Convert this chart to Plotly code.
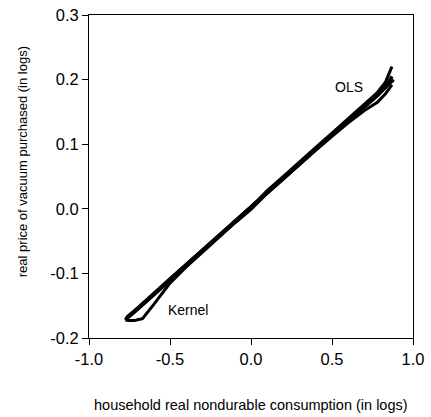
import plotly.graph_objects as go

# OLS fit
ols_x = [-0.77, 0.88]
ols_y = [-0.170, 0.200]

# Kernel fit and its bands
kernel_x = [-0.775, -0.76, -0.72, -0.67, -0.60, -0.50, -0.40, -0.30, -0.20, -0.10, 0.00,
            0.05, 0.10, 0.20, 0.30, 0.40, 0.50, 0.60, 0.70, 0.78, 0.83, 0.87]
kernel_y = [-0.172, -0.168, -0.160, -0.149, -0.133, -0.110, -0.088, -0.066, -0.043, -0.021, 0.001,
            0.013, 0.026, 0.048, 0.071, 0.093, 0.115, 0.137, 0.158, 0.175, 0.188, 0.205]
kernel_lo = [-0.172, -0.173, -0.173, -0.170, -0.148, -0.115, -0.090, -0.067, -0.044, -0.022, -0.001,
             0.011, 0.024, 0.046, 0.069, 0.091, 0.112, 0.133, 0.152, 0.165, 0.178, 0.192]
kernel_hi = [-0.172, -0.166, -0.158, -0.147, -0.131, -0.108, -0.086, -0.064, -0.041, -0.019, 0.003,
             0.015, 0.028, 0.050, 0.073, 0.095, 0.117, 0.140, 0.162, 0.180, 0.196, 0.220]

x_ticks = [-1.0, -0.5, 0.0, 0.5, 1.0]
x_labels = ["-1.0", "-0.5", "0.0", "0.5", "1.0"]
y_ticks = [-0.2, -0.1, 0.0, 0.1, 0.2, 0.3]
y_labels = ["-0.2", "-0.1", "0.0", "0.1", "0.2", "0.3"]

FONT = "Liberation Sans, Arial, sans-serif"

fig = go.Figure()
for xs, ys, w in [(ols_x, ols_y, 4), (kernel_x, kernel_y, 3.5), (kernel_x, kernel_lo, 3), (kernel_x, kernel_hi, 3)]:
    fig.add_trace(go.Scatter(x=xs, y=ys, mode="lines", line=dict(color="black", width=w),
                             showlegend=False, hoverinfo="skip"))

fig.add_annotation(x=0.602, y=0.1886, text="OLS", showarrow=False,
                   font=dict(size=14, color="black", family=FONT))
fig.add_annotation(x=-0.389, y=-0.157, text="Kernel", showarrow=False,
                   font=dict(size=14, color="black", family=FONT))

# axis titles
fig.add_annotation(xref="paper", yref="paper", x=0.5, y=-0.207, xanchor="center", yanchor="middle",
                   text="household real nondurable consumption (in logs)", showarrow=False,
                   font=dict(size=14.5, color="black", family=FONT))
fig.add_annotation(xref="paper", yref="paper", x=-0.205, y=0.546, xanchor="center", yanchor="middle",
                   text="real price of vacuum purchased (in logs)", showarrow=False, textangle=-90,
                   font=dict(size=13, color="black", family=FONT))

axis_common = dict(showline=True, linecolor="black", linewidth=1, mirror=True, automargin=False,
                   ticks="outside", ticklen=6, tickcolor="black", showgrid=False, zeroline=False,
                   tickfont=dict(size=16.5, color="black", family=FONT))

fig.update_xaxes(range=[-1.0, 1.0], tickvals=x_ticks, ticktext=x_labels, **axis_common)
fig.update_yaxes(range=[-0.2, 0.3], tickvals=y_ticks, ticktext=y_labels, **axis_common)

fig.update_layout(width=431, height=417, margin=dict(l=89, r=18, t=15, b=79),
                  plot_bgcolor="white", paper_bgcolor="white")

fig.write_html("out.html", config={"displayModeBar": False},
               post_script="document.body.style.margin='0';document.body.style.overflow='hidden';")
